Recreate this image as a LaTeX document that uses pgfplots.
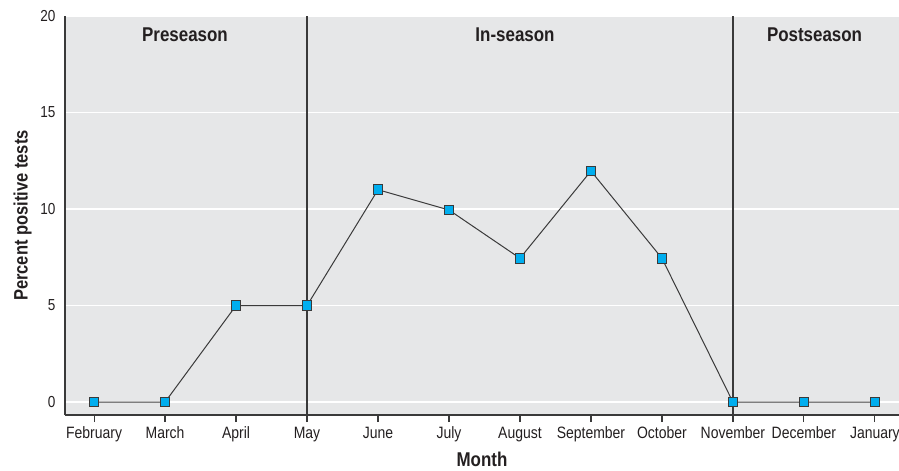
\documentclass[border=0pt]{standalone}
\usepackage{fontspec}
\setmainfont{Liberation Sans}[FakeStretch=0.85]
\usepackage{pgfplots}
\pgfplotsset{compat=1.18}
\definecolor{bg}{HTML}{E6E7E8}
\definecolor{ax}{HTML}{3A3A3A}
\definecolor{txt}{HTML}{231F20}
\definecolor{mk}{HTML}{00AEEF}
\begin{document}
\begin{tikzpicture}
\begin{axis}[
  at={(0,0)}, anchor=south west,
  scale only axis, width=834bp, height=399bp,
  xmin=-0.41, xmax=11.34, ymin=-0.67, ymax=20,
  axis background/.style={fill=bg},
  axis x line*=bottom, axis y line*=left,
  axis line style={ax, line width=1.4bp},
  xtick={0,...,11},
  xticklabels={February,March,April,May,June,July,August,September,October,November,December,January},
  ytick={0,5,10,15,20},
  ymajorgrids, grid style={white, line width=1.2bp},
  x tick style={ax, line width=1.2bp}, tick align=outside, major tick length=7bp,
  y tick style={draw=none},
  ticklabel style={font=\fontsize{16.5}{18}\selectfont, text=txt},
  yticklabel style={font=\fontsize{16}{18}\selectfont, xshift=1bp},
  /pgf/number format/assume math mode=true,
  xticklabel style={yshift=-1bp, text height=12bp, text depth=4bp},
  xlabel={\bfseries Month}, xlabel style={font=\fontsize{20}{22}\selectfont, text=txt, yshift=-3bp},
  ylabel={\bfseries Percent positive tests}, ylabel style={font=\fontsize{19.5}{22}\selectfont, text=txt, yshift=2bp},
  clip=false,
]
\draw[ax, line width=1.2bp] (axis cs:3,-0.67) -- (axis cs:3,20);
\draw[ax, line width=1.2bp] (axis cs:9,-0.67) -- (axis cs:9,20);
\addplot[color=ax, line width=1bp, mark=square*, mark size=4.8bp,
  mark options={fill=mk, draw=ax, line width=1bp}] coordinates {
  (0,0) (1,0) (2,5) (3,5) (4,11) (5,9.95) (6,7.45) (7,11.97) (8,7.45) (9,0) (10,0) (11,0)
};
\node[font=\fontsize{20}{22}\selectfont\bfseries, text=txt] at (axis cs:1.28,19.05) {Preseason};
\node[font=\fontsize{20}{22}\selectfont\bfseries, text=txt] at (axis cs:5.93,19.05) {In-season};
\node[font=\fontsize{20}{22}\selectfont\bfseries, text=txt] at (axis cs:10.15,19.05) {Postseason};
\end{axis}
\pgfresetboundingbox
\path (-65bp,-56bp) rectangle (834bp,415bp);
\end{tikzpicture}
\end{document}
